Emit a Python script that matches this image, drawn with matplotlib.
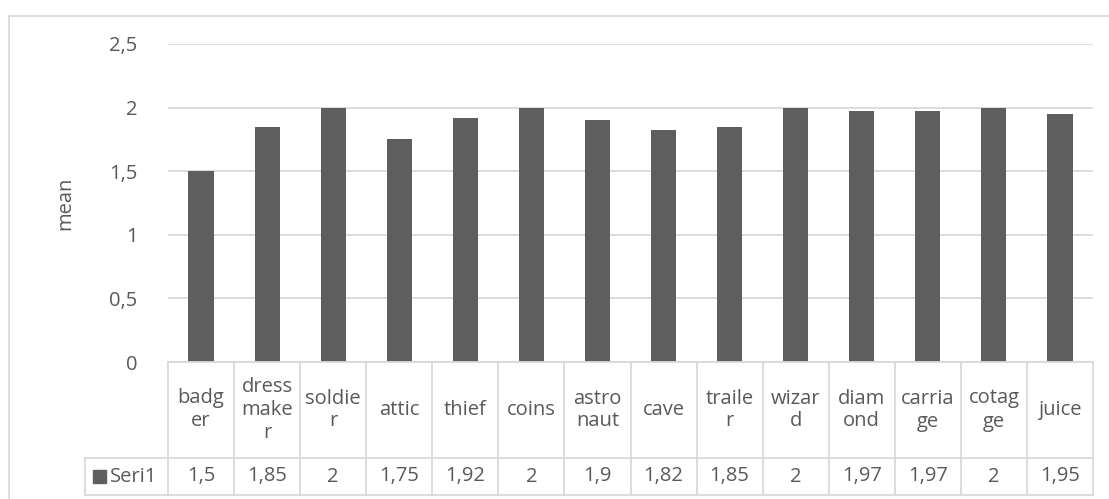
#!/usr/bin/env python3

import matplotlib
matplotlib.use('Agg')
import matplotlib.pyplot as plt
from matplotlib.patches import Rectangle

# chart data
categories = ['badger', 'dressmaker', 'soldier', 'attic', 'thief', 'coins', 'astronaut',
              'cave', 'trailer', 'wizard', 'diamond', 'carriage', 'cotage', 'juice']
# how the category names wrap inside the table cells
cat_labels = ['badg\ner', 'dress\nmake\nr', 'soldie\nr', 'attic', 'thief', 'coins', 'astro\nnaut',
              'cave', 'traile\nr', 'wizar\nd', 'diam\nond', 'carria\nge', 'cotag\nge', 'juice']
means = [1.5, 1.85, 2, 1.75, 1.92, 2, 1.9, 1.82, 1.85, 2, 1.97, 1.97, 2, 1.95]
value_labels = ['1,5', '1,85', '2', '1,75', '1,92', '2', '1,9', '1,82', '1,85', '2',
                '1,97', '1,97', '2', '1,95']
series_name = 'Seri1'
y_ticks = [0, 0.5, 1, 1.5, 2, 2.5]
y_tick_labels = ['0', '0,5', '1', '1,5', '2', '2,5']

text_col = '#595959'
bar_col = '#5e5e5e'
line_col = '#d9d9d9'
fs = 14.5
plt.rcParams['font.family'] = ['Open Sans', 'DejaVu Sans']

W, H = 1109, 499
fig = plt.figure(figsize=(W / 100, H / 100), dpi=100)

# outer chart border (only top and left visible in the crop)
fig.add_artist(plt.Line2D([9 / W, 9 / W], [0, 1 - 16 / H], color=line_col, lw=1.3))
fig.add_artist(plt.Line2D([9 / W, 1], [1 - 16 / H, 1 - 16 / H], color=line_col, lw=1.3))

# plot area in pixels
px_l, px_r, px_t, px_b = 168, 1093, 44, 362
ax = fig.add_axes([px_l / W, 1 - px_b / H, (px_r - px_l) / W, (px_b - px_t) / H])
x = list(range(len(categories)))
ax.bar(x, means, width=0.38, color=bar_col, zorder=3)
ax.set_xlim(-0.5, len(categories) - 0.5)
ax.set_ylim(0, 2.5)
ax.set_yticks(y_ticks)
ax.set_yticklabels(y_tick_labels)
ax.yaxis.grid(True, color=line_col, lw=1.3, zorder=0)
ax.set_xticks([])
for s in ax.spines.values():
    s.set_visible(False)
ax.tick_params(axis='y', length=0, pad=22, labelsize=fs, labelcolor=text_col)
ax.set_ylabel('mean', fontsize=fs, color=text_col, labelpad=24)

# data table below the plot
tb_l, tb_row, tb_b = 85, 458, 495
col_w = (px_r - px_l) / len(categories)
tax = fig.add_axes([tb_l / W, 1 - tb_b / H, (px_r - tb_l) / W, (tb_b - px_b) / H])
left_edge = -0.5 - (px_l - tb_l) / col_w
tax.set_xlim(left_edge, len(categories) - 0.5)
tax.set_ylim(tb_b, px_b)
tax.axis('off')
lk = dict(color=line_col, lw=1.3, clip_on=False)
tax.plot([-0.5, len(categories) - 0.5], [px_b, px_b], **lk)
tax.plot([left_edge, len(categories) - 0.5], [tb_row, tb_row], **lk)
tax.plot([left_edge, len(categories) - 0.5], [tb_b, tb_b], **lk)
tax.plot([left_edge, left_edge], [tb_row, tb_b], **lk)
for i in range(len(categories) + 1):
    tax.plot([i - 0.5, i - 0.5], [px_b, tb_b], **lk)
for i, (lab, val) in enumerate(zip(cat_labels, value_labels)):
    tax.text(i, (px_b + tb_row) / 2, lab, ha='center', va='center', fontsize=fs,
             color=text_col, linespacing=1.2)
    tax.text(i, (tb_row + tb_b) / 2, val, ha='center', va='center', fontsize=fs, color=text_col)

# legend key in the table
mid_y = (tb_row + tb_b) / 2
key_w = 13 / col_w
tax.add_patch(Rectangle((left_edge + 8 / col_w, mid_y - 6.5), key_w, 13, color=bar_col,
                        clip_on=False))
tax.text(left_edge + 25 / col_w, mid_y, series_name, ha='left', va='center', fontsize=fs,
         color=text_col)

fig.savefig('out.png', dpi=100)
